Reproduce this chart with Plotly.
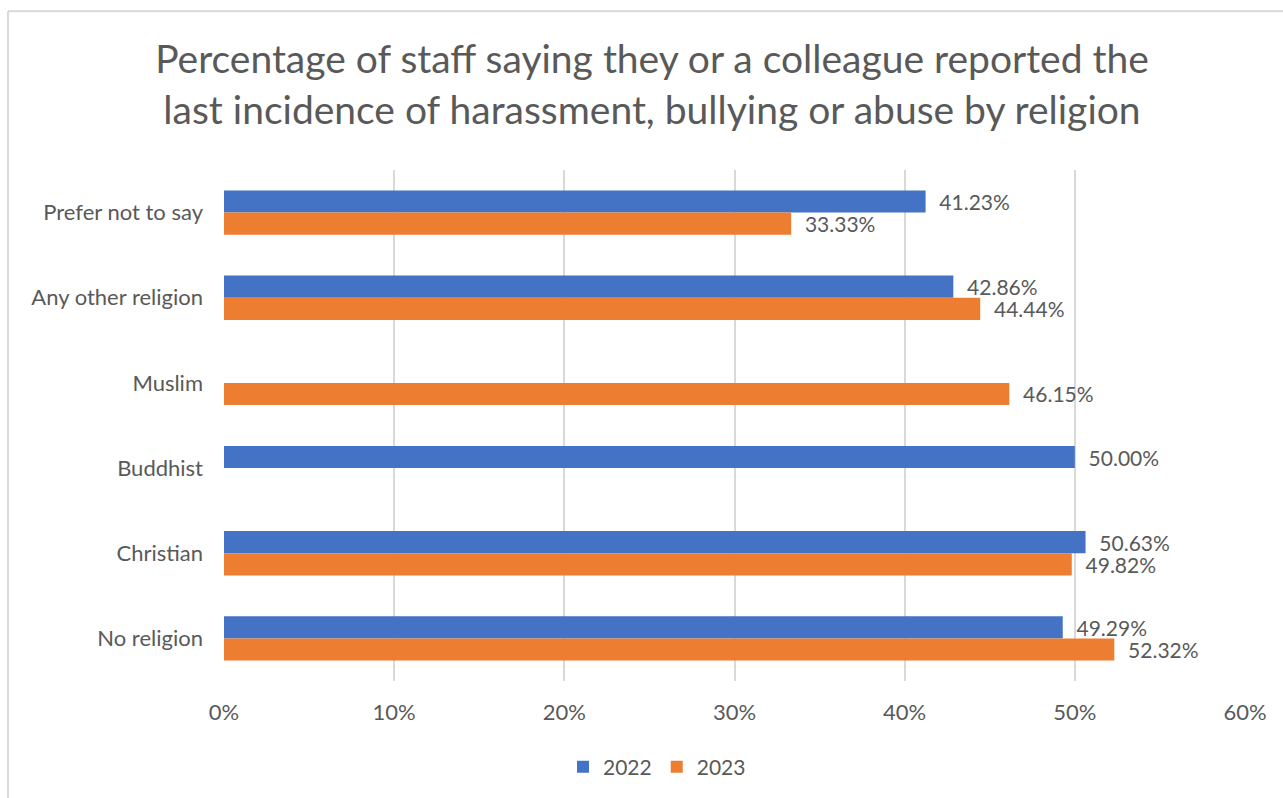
import plotly.graph_objects as go

categories = ["Prefer not to say", "Any other religion", "Muslim", "Buddhist", "Christian", "No religion"]
values_2022 = [0.4123, 0.4286, None, 0.5000, 0.5063, 0.4929]
values_2023 = [0.3333, 0.4444, 0.4615, None, 0.4982, 0.5232]
series_names = ["2022", "2023"]
x_ticks = [0, 0.1, 0.2, 0.3, 0.4, 0.5, 0.6]

FONT = "Lato, Calibri, Carlito, sans-serif"
GREY = "#595959"

fig = go.Figure()
for name, vals, color in [(series_names[0], values_2022, "#4472C4"), (series_names[1], values_2023, "#ED7D31")]:
    fig.add_trace(go.Bar(
        y=categories, x=vals, name=name, orientation="h",
        marker=dict(color=color, line=dict(width=0)),
        texttemplate="\u00a0\u00a0%{x:.2%}", textposition="outside",
        textfont=dict(family=FONT, size=21, color=GREY),
        constraintext="none", textangle=0,
        cliponaxis=False,
    ))

L, R, T, B = 224, 38, 170, 116
W, H = 1283, 798
pw, ph = W - L - R, H - T - B

fig.update_layout(
    width=W, height=H,
    margin=dict(l=L, r=R, t=T, b=B),
    paper_bgcolor="white", plot_bgcolor="white",
    barmode="group", bargap=0.48, bargroupgap=0,
    title=dict(
        text="Percentage of staff saying they or a colleague reported the<br>last incidence of harassment, bullying or abuse by religion",
        x=652 / W, xanchor="center", xref="container", y=1 - 73 / H, yanchor="middle",
        font=dict(family=FONT, size=39, color=GREY),
    ),
    font=dict(family=FONT, color=GREY),
    xaxis=dict(
        range=[0, 0.6], tickvals=x_ticks, tickformat=".0%",
        showgrid=True, gridcolor="#D9D9D9", gridwidth=2,
        zeroline=False, showline=False, ticks="",
        tickfont=dict(family=FONT, size=22, color=GREY),
        ticklabelstandoff=16,
    ),
    yaxis=dict(
        autorange="reversed", showgrid=False, zeroline=False,
        showline=False, ticks="", ticklabelstandoff=20,
        tickfont=dict(family=FONT, size=22, color=GREY),
    ),
    legend=dict(
        orientation="h", x=(657 - L) / pw, xanchor="center", y=-(767 - (T + ph)) / ph, yanchor="middle",
        font=dict(family=FONT, size=21, color=GREY),
        itemwidth=30, traceorder="normal",
    ),
    showlegend=True,
)

fig.add_shape(type="line", xref="paper", yref="paper",
              x0=(8 - L) / pw, x1=(W + 10 - L) / pw, y0=1 + (T - 11) / ph, y1=1 + (T - 11) / ph,
              line=dict(color="#D9D9D9", width=2), layer="below")
fig.add_shape(type="line", xref="paper", yref="paper",
              x0=(8 - L) / pw, x1=(8 - L) / pw, y0=1 + (T - 11) / ph, y1=-(H + 10 - T - ph) / ph,
              line=dict(color="#D9D9D9", width=2), layer="below")

fig.write_html("out.html")
